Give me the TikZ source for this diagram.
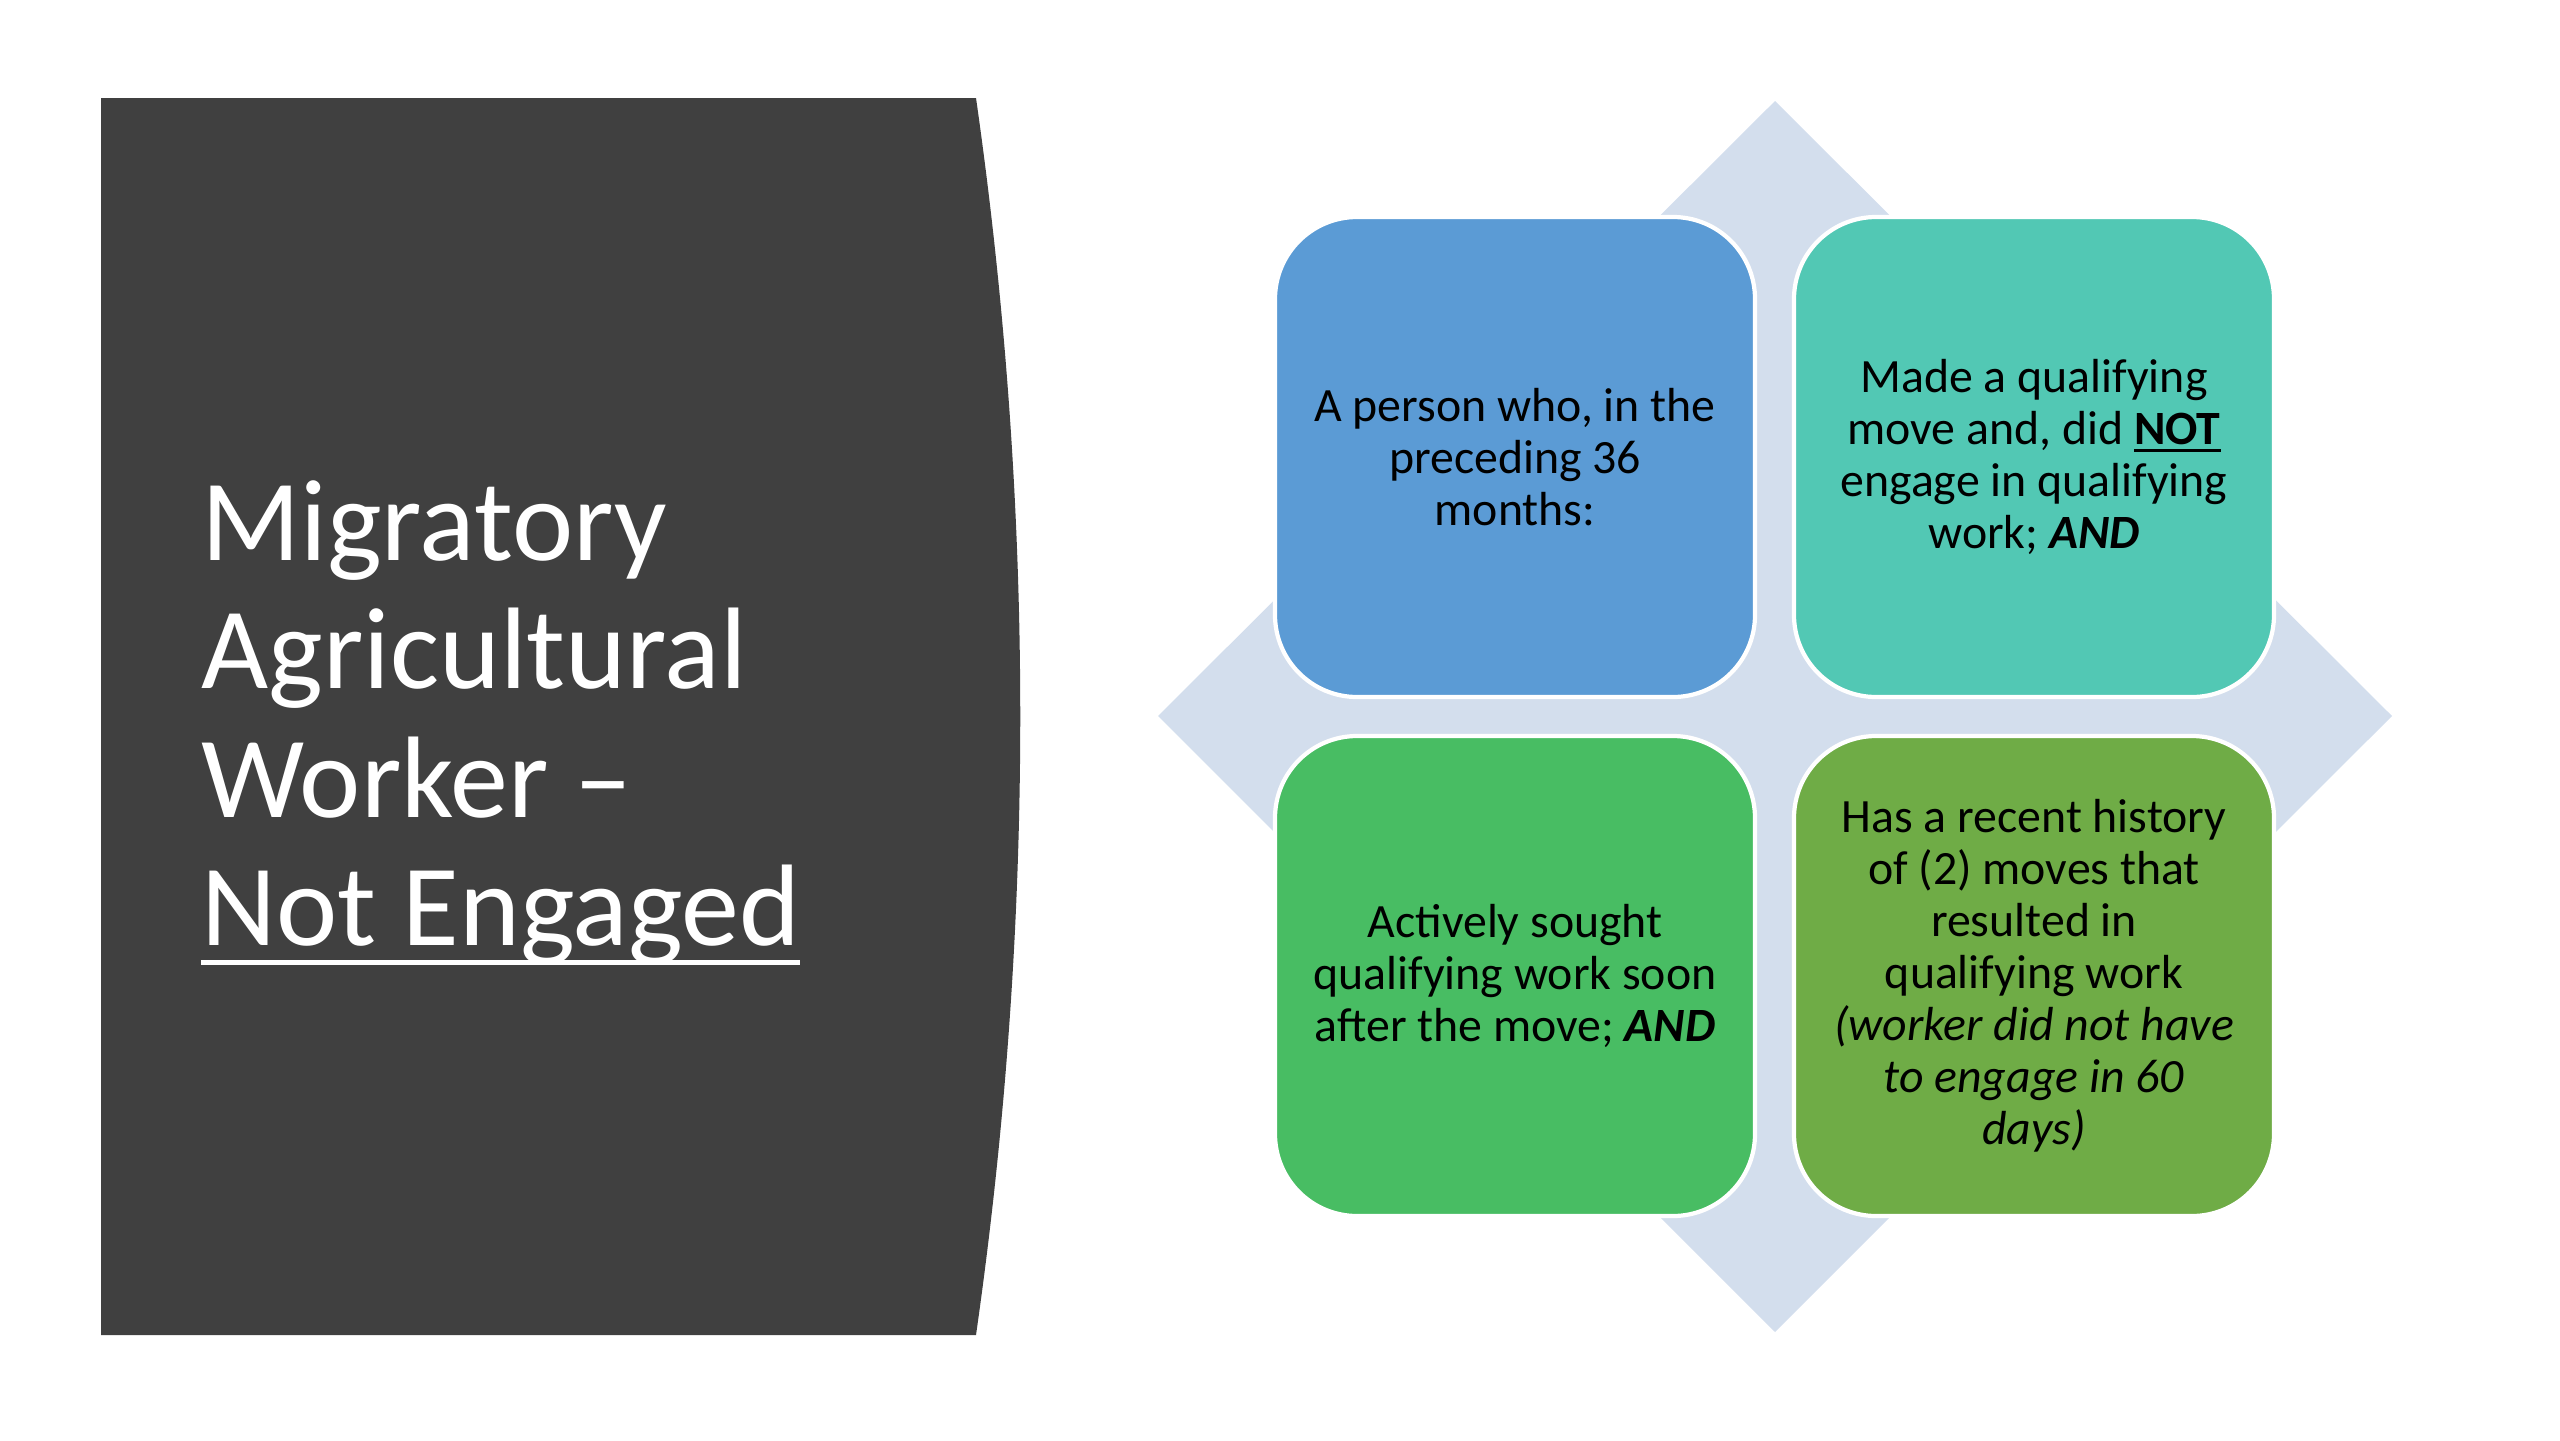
\documentclass[tikz,border=0pt]{standalone}
\usepackage{fontspec}
\setmainfont{Carlito}
\usepackage{xcolor}
\usetikzlibrary{positioning}

\definecolor{panelgray}{HTML}{404040}
\definecolor{diamondblue}{HTML}{D3DEED}
\definecolor{cardblue}{HTML}{5B9BD5}
\definecolor{cardteal}{HTML}{52C8B4}
\definecolor{cardgreen}{HTML}{48BD63}
\definecolor{cardolive}{HTML}{6FAC46}

% underline with given thickness and depth
\newcommand{\ulthick}[3]{\begingroup\setbox0\hbox{#3}\rlap{\rule[-#2]{\wd0}{#1}}\box0\endgroup}

\begin{document}
\begin{tikzpicture}[node distance=3.9mm and 3.9mm,
    card/.style={rectangle,rounded corners=8.2mm,draw=white,line width=1.2pt,outer sep=0pt,
        minimum size=48mm,inner sep=0pt,align=center,font=\fontsize{13.6}{14.8}\selectfont}]
    \useasboundingbox (0,0) rectangle (25.6,-14.4);
    % dark title panel with curved right side
    \fill[panelgray] (1.01,-0.98) -- (9.76,-0.98) .. controls (10.35,-5.1) and (10.35,-9.23) .. (9.76,-13.35) -- (1.01,-13.35) -- cycle;
    \node[anchor=west,align=left,text=white,font=\fontsize{33}{36.5}\selectfont] (title) at (1.89,-7.23)
        {Migratory\\Agricultural\\Worker --\\\ulthick{1.4pt}{5.5pt}{Not Engaged}};
    % diamond behind the cards
    \fill[diamondblue] (17.75,-1.01) -- (23.92,-7.16) -- (17.75,-13.32) -- (11.58,-7.16) -- cycle;
    \node[card,fill=cardblue] (c1) at (15.15,-4.57) {A person who, in the\\preceding 36\\months:};
    \node[card,fill=cardteal,right=of c1] (c2) {Made a qualifying\\move and, did \textbf{\ulthick{0.8pt}{2.2pt}{NOT}}\\engage in qualifying\\work; \textbf{\textit{AND}}};
    \node[card,fill=cardgreen,below=of c1] (c3) {Actively sought\\qualifying work soon\\after the move; \textbf{\textit{AND}}};
    \node[card,fill=cardolive,right=of c3] (c4) {Has a recent history\\of (2) moves that\\resulted in\\qualifying work\\\textit{(worker did not have}\\\textit{to engage in 60}\\\textit{days)}};
\end{tikzpicture}
\end{document}
